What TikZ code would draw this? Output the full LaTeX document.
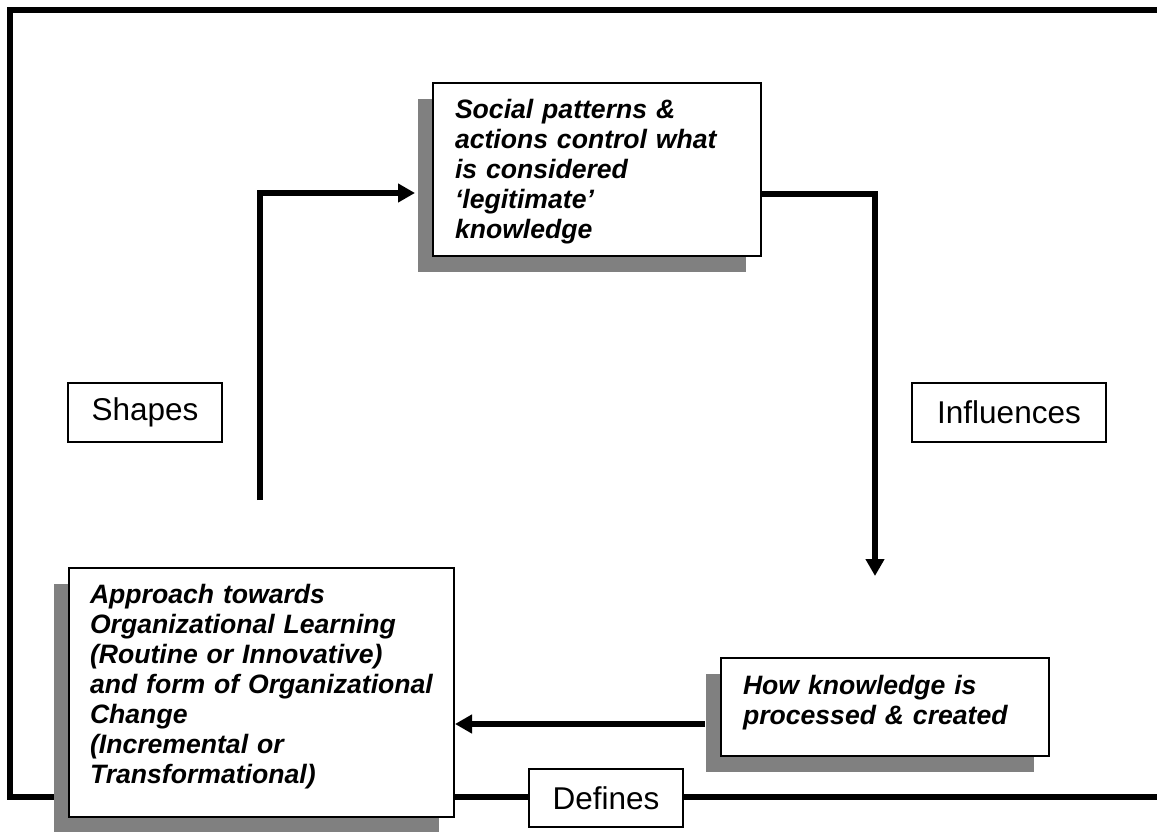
\documentclass[tikz,border=0pt]{standalone}
\usepackage{fontspec}
\setmainfont{Liberation Sans}
\usetikzlibrary{arrows.meta,shadows,calc}

\begin{document}
\begin{tikzpicture}[x=1pt,y=-1pt,
  frame/.style={line width=5.5pt,line join=miter},
  conn/.style={line width=5.5pt,line join=miter,-{Triangle[length=17pt,width=18pt]}},
  flow/.style={line width=5.5pt,line join=miter},
  stepbox/.style={draw,line width=2pt,fill=white,anchor=north west,
    inner ysep=0pt,align=left,
    font=\fontsize{26.6}{30}\selectfont\bfseries\itshape,
    drop shadow={shadow xshift=-15pt,shadow yshift=-16pt,opacity=1,fill=black!50}},
  tag/.style={draw,line width=1.5pt,fill=white,inner sep=0pt,
    font=\fontsize{31.5}{36}\selectfont}]

\useasboundingbox (0,0) rectangle (1157,832);

% outer frame, open on the right
\draw[frame] (1160,10) -- (10,10) -- (10,797) -- (1160,797);

% the three statements
\node[stepbox,inner xsep=22pt,text width=284pt,text height=36pt,text depth=137pt]
  (top) at (432,82)
  {Social patterns \&\\actions control what\\is considered\\‘legitimate’\\knowledge};
\node[stepbox,inner xsep=21pt,text width=343pt,text height=35pt,text depth=214pt]
  (appr) at (68,567)
  {Approach towards\\Organizational Learning\\(Routine or Innovative)\\and form of Organizational\\Change\\(Incremental or\\Transformational)};
\node[stepbox,inner xsep=22pt,text width=284pt,text height=36pt,text depth=62pt]
  (proc) at (720,657)
  {How knowledge is\\processed \& created};

% relation labels
\node[tag,minimum width=154pt,minimum height=59pt] (shapes) at (145,412.5) {Shapes};
\node[tag,minimum width=194pt,minimum height=59pt] (infl) at (1009,412.5) {Influences};
\node[tag,minimum width=154pt,minimum height=58pt] (defs) at (606,798) {Defines};

% connectors
\coordinate (shapesFoot) at (260,500);
\coordinate (inflTip) at (875,576);
\draw[conn] (shapesFoot) |- ($(top.west)+(-17,23.5)$);
\draw[conn] ($(top.east)+(0,24.5)$) -| (inflTip);
\coordinate (defStart) at ($(proc.west)+(-15,17)$);
\draw[conn] (defStart) -- (defStart -| appr.east);
\end{tikzpicture}
\end{document}
